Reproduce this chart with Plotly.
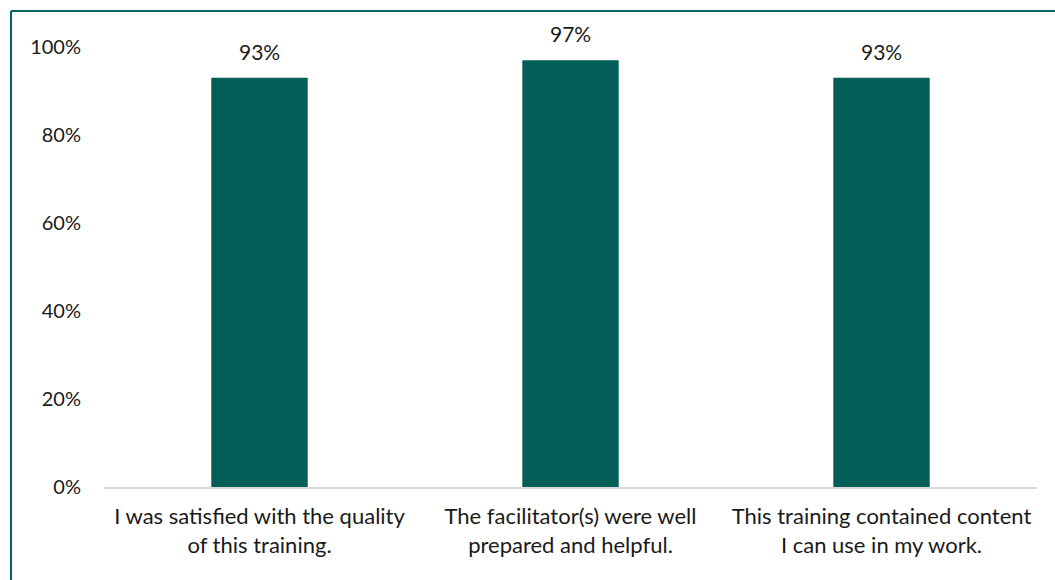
import plotly.graph_objects as go

# Survey statements and share of agreeing respondents (%)
categories = [
    "I was satisfied with the quality<br>of this training.",
    "The facilitator(s) were well<br>prepared and helpful.",
    "This training contained content<br>I can use in my work.",
]
values = [93, 97, 93]
tick_values = [0, 20, 40, 60, 80, 100]
tick_labels = ["0%", "20%", "40%", "60%", "80%", "100%"]

BAR = "#025E56"
FRAME = "#00685E"
FONT = "Lato"
TXT = "#1a1a1a"

W, H = 1055, 580
L, R, T, B = 104, 18, 47, 93
pw, ph = W - L - R, H - T - B

fig = go.Figure(
    go.Bar(
        x=categories,
        y=values,
        marker=dict(color=BAR, line=dict(width=0)),
        width=0.31,
        cliponaxis=False,
    )
)

# Value labels above each bar
for cat, v in zip(categories, values):
    fig.add_annotation(
        x=cat, y=v, text=f"{v}%", showarrow=False,
        yanchor="bottom", yshift=12,
        font=dict(family=FONT, size=21, color=TXT),
    )

# Frame lines along the top and left edges of the page
def px_x(p):
    return (p - L) / pw

def px_y(p):
    return (H - B - p) / ph

fig.add_shape(type="line", xref="paper", yref="paper",
              x0=px_x(11), x1=px_x(W + 5), y0=px_y(11), y1=px_y(11),
              line=dict(color=FRAME, width=2))
fig.add_shape(type="line", xref="paper", yref="paper",
              x0=px_x(11), x1=px_x(11), y0=px_y(11), y1=px_y(H + 5),
              line=dict(color=FRAME, width=2))

fig.update_layout(
    width=W,
    height=H,
    margin=dict(l=L, r=R, t=T, b=B),
    paper_bgcolor="white",
    plot_bgcolor="white",
    showlegend=False,
    font=dict(family=FONT, size=21, color=TXT),
    xaxis=dict(
        showline=True,
        linecolor="#d9d9d9",
        linewidth=2,
        showgrid=False,
        ticks="",
        tickfont=dict(family=FONT, size=22, color=TXT),
        ticklabelstandoff=9,
    ),
    yaxis=dict(
        range=[0, 100],
        tickvals=tick_values,
        ticktext=tick_labels,
        showgrid=False,
        zeroline=False,
        showline=False,
        ticks="",
        ticklabelstandoff=22,
        tickfont=dict(family=FONT, size=20, color=TXT),
    ),
)

fig.write_html("out.html")
